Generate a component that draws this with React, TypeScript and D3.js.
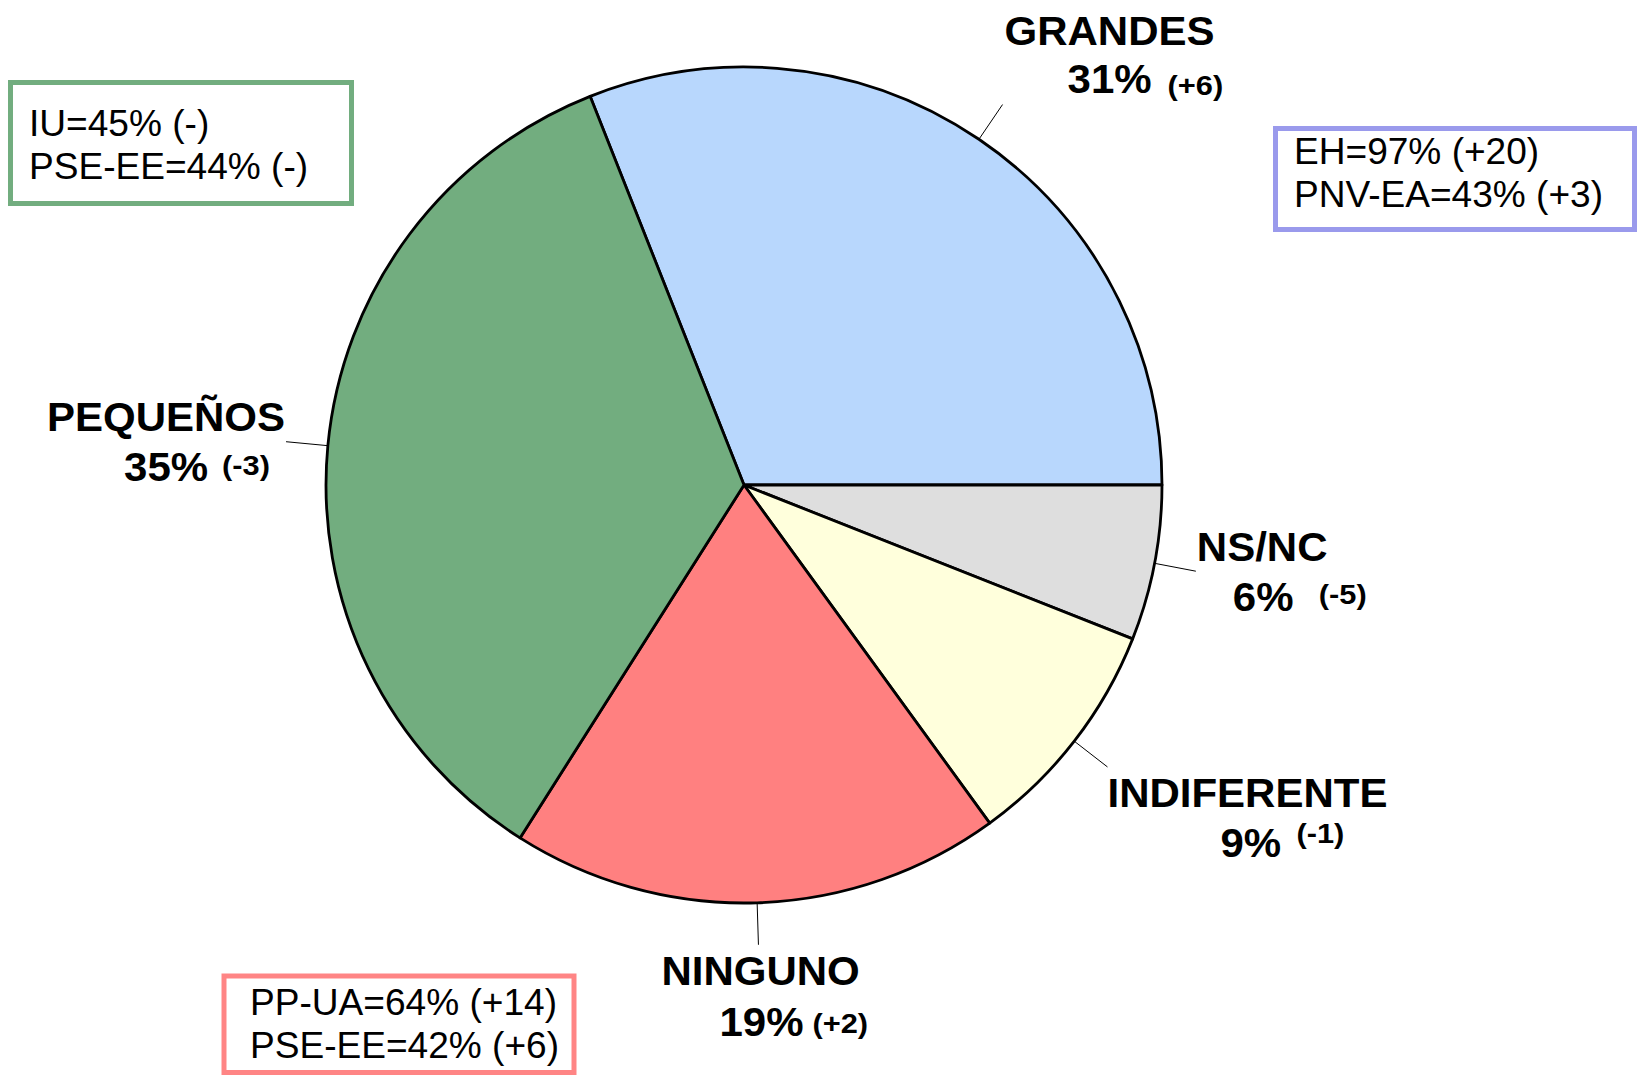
import * as d3 from 'd3';

// Slices, clockwise from the GRANDES / PEQUEÑOS border
const categories = ['GRANDES', 'NS/NC', 'INDIFERENTE', 'NINGUNO', 'PEQUEÑOS'];
const values = [31, 6, 9, 19, 35];
const changes = ['(+6)', '(-5)', '(-1)', '(+2)', '(-3)'];
const sliceColors = ['#b8d7fd', '#dedede', '#ffffdc', '#ff8080', '#72ad7f'];

// Party breakdown boxes
const greenBox = ['IU=45% (-)', 'PSE-EE=44% (-)'];
const blueBox = ['EH=97% (+20)', 'PNV-EA=43% (+3)'];
const redBox = ['PP-UA=64% (+14)', 'PSE-EE=42% (+6)'];

const WIDTH = 1641;
const HEIGHT = 1079;
const CX = 744;
const CY = 485;
const R = 418;
const FONT = '"Liberation Sans", Arial, Helvetica, sans-serif';

// label offsets: name relative to leader end, pct & change relative to name
const labelLayout = [
  { name: [2, -60], pct: [63, 48], chg: [163, 50] },
  { name: [1, -10], pct: [36, 50], chg: [122, 43] },
  { name: [0, 40], pct: [113, 50], chg: [189, 36] },
  { name: [-97, 40], pct: [58, 51], chg: [151, 48] },
  { name: [-239, -11], pct: [77, 50], chg: [175, 44] },
];

const boxLayout = [
  { lines: greenBox, color: '#72ad7f', x: 10.5, y: 82.5, w: 341, h: 121, tx: 29, ty: 136 },
  { lines: blueBox, color: '#9a9aec', x: 1275.5, y: 128.5, w: 359, h: 101, tx: 1294, ty: 164 },
  { lines: redBox, color: '#ff8585', x: 224, y: 976, w: 350, h: 96.5, tx: 250, ty: 1015 },
];

function ScaledText({ x, y, sx, size, weight, children }: {
  x: number; y: number; sx: number; size: number; weight: string | number; children: string;
}) {
  return (
    <text
      transform={`translate(${x},${y}) scale(${sx},1)`}
      fontFamily={FONT}
      fontSize={size}
      fontWeight={weight}
      fill="#000"
    >
      {children}
    </text>
  );
}

export default function App() {
  const startAngle = Math.PI / 2 - (values[0] / 100) * 2 * Math.PI;
  const pie = d3.pie<number>().sort(null).value((d) => d)
    .startAngle(startAngle).endAngle(startAngle + 2 * Math.PI);
  const arcs = pie(values);
  const arc = d3.arc<d3.PieArcDatum<number>>().innerRadius(0).outerRadius(R);
  const edgeArc = d3.arc<d3.PieArcDatum<number>>().innerRadius(R).outerRadius(R);
  const outerArc = d3.arc<d3.PieArcDatum<number>>().innerRadius(460).outerRadius(460);

  return (
    <svg
      width={WIDTH}
      height={HEIGHT}
      style={{ position: 'absolute', left: 0, top: 0, background: '#fff' }}
    >
      <g transform={`translate(${CX},${CY})`}>
        {arcs.map((a, i) => (
          <path
            key={categories[i]}
            d={arc(a) ?? ''}
            fill={sliceColors[i]}
            stroke="#000"
            strokeWidth={2.8}
            strokeLinejoin="round"
          />
        ))}
        {arcs.map((a, i) => {
          const [x1, y1] = edgeArc.centroid(a);
          const [x2, y2] = outerArc.centroid(a);
          return (
            <line key={`l-${i}`} x1={x1} y1={y1} x2={x2} y2={y2} stroke="#000" strokeWidth={1} />
          );
        })}
        {arcs.map((a, i) => {
          const [ex, ey] = outerArc.centroid(a);
          const L = labelLayout[i];
          const nx = ex + L.name[0];
          const ny = ey + L.name[1];
          return (
            <g key={`t-${i}`}>
              <ScaledText x={nx} y={ny} sx={1.05} size={40} weight="bold">{categories[i]}</ScaledText>
              <ScaledText x={nx + L.pct[0]} y={ny + L.pct[1]} sx={1.05} size={40} weight="bold">
                {`${values[i]}%`}
              </ScaledText>
              <ScaledText x={nx + L.chg[0]} y={ny + L.chg[1]} sx={1.1} size={28} weight="bold">
                {changes[i]}
              </ScaledText>
            </g>
          );
        })}
      </g>
      {boxLayout.map((b, i) => (
        <g key={`b-${i}`}>
          <rect x={b.x} y={b.y} width={b.w} height={b.h} fill="#fff" stroke={b.color} strokeWidth={5} />
          {b.lines.map((line, j) => (
            <ScaledText key={line} x={b.tx} y={b.ty + j * 42.5} sx={1.03} size={36} weight="normal">
              {line}
            </ScaledText>
          ))}
        </g>
      ))}
    </svg>
  );
}
